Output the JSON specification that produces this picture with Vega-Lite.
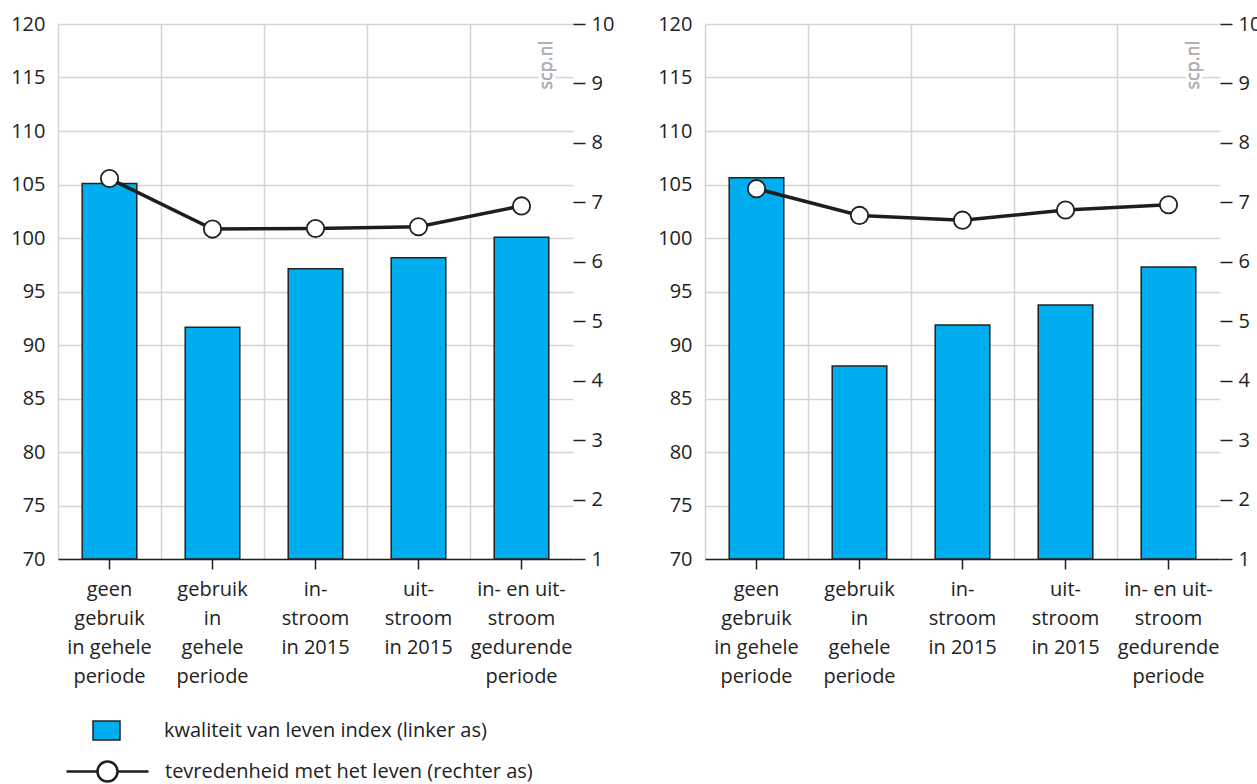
{
  "$schema": "https://vega.github.io/schema/vega-lite/v6.json",
  "padding": {"left": 10, "top": 14, "right": 0, "bottom": 0},
  "bounds": "flush",
  "spacing": 132,
  "config": {
    "font": "Open Sans",
    "view": {"stroke": null},
    "axis": {"labelFont": "Open Sans", "labelFontSize": 20, "labelColor": "#222222", "gridColor": "#d4d4d4", "gridWidth": 1.5},
    "legend": {"labelFont": "Open Sans", "labelFontSize": 20, "labelColor": "#222222", "padding": 0, "labelLimit": 0}
  },
  "datasets": {
    "d": [
      {"panel": "A", "cat": "geen|gebruik|in gehele|periode", "index": 105.1, "tevr": 7.40},
      {"panel": "A", "cat": "gebruik|in|gehele|periode", "index": 91.65, "tevr": 6.55},
      {"panel": "A", "cat": "in-|stroom|in 2015", "index": 97.13, "tevr": 6.56},
      {"panel": "A", "cat": "uit-|stroom|in 2015", "index": 98.16, "tevr": 6.59},
      {"panel": "A", "cat": "in- en uit-|stroom|gedurende|periode", "index": 100.06, "tevr": 6.94},
      {"panel": "B", "cat": "geen|gebruik|in gehele|periode", "index": 105.64, "tevr": 7.23},
      {"panel": "B", "cat": "gebruik|in|gehele|periode", "index": 88.04, "tevr": 6.78},
      {"panel": "B", "cat": "in-|stroom|in 2015", "index": 91.87, "tevr": 6.70},
      {"panel": "B", "cat": "uit-|stroom|in 2015", "index": 93.74, "tevr": 6.87},
      {"panel": "B", "cat": "in- en uit-|stroom|gedurende|periode", "index": 97.29, "tevr": 6.96}
    ]
  },
  "hconcat": [
    {
      "width": 515, "height": 535,
      "data": {"name": "d"},
      "transform": [{"filter": "datum.panel == 'A'"}],
      "layer": [
        {"layer": [
          {"mark": {"type": "bar", "width": {"band": 0.53}, "stroke": "#222222", "strokeWidth": 1.5},
           "encoding": {
             "x": {"field": "cat", "type": "nominal", "sort": null, "scale": {"paddingInner": 0, "paddingOuter": 0},
                   "axis": {"orient": "bottom", "grid": true, "bandPosition": 0, "labels": false, "ticks": false, "domain": false, "title": null}},
             "y": {"field": "index", "type": "quantitative", "scale": {"domain": [70, 120], "nice": false, "zero": false},
                   "axis": {"values": [70, 75, 80, 85, 90, 95, 100, 105, 110, 115, 120], "grid": true, "ticks": false, "domain": false, "labelPadding": 13, "title": null}},
             "y2": {"datum": 70},
             "fill": {"datum": "kwaliteit van leven index (linker as)", "scale": {"range": ["#00aeef"]},
                      "legend": {"orient": "none", "legendX": 34, "legendY": 692, "title": null, "symbolType": "M-1,-0.7H1V0.7H-1Z", "symbolSize": 729, "symbolStrokeColor": "#222222", "symbolFillColor": "#00aeef", "symbolStrokeWidth": 1.5, "labelOffset": 43,
                                 "encode": {"symbols": {"update": {"fill": {"value": "#00aeef"}, "stroke": {"value": "#222222"}, "strokeWidth": {"value": 1.5}, "opacity": {"value": 1}}}}}}
           }},
          {"mark": {"type": "text", "text": "scp.nl", "angle": 270, "align": "right", "baseline": "alphabetic", "dx": -17, "dy": -21, "fontSize": 18, "color": "white", "stroke": "white", "strokeWidth": 6, "font": "Open Sans"},
           "encoding": {"x": {"datum": "in- en uit-|stroom|gedurende|periode", "bandPosition": 1}, "y": {"datum": 120}}},
          {"mark": {"type": "text", "text": "scp.nl", "angle": 270, "align": "right", "baseline": "alphabetic", "dx": -17, "dy": -21, "fontSize": 18, "color": "#b3b3b3", "font": "Open Sans"},
           "encoding": {"x": {"datum": "in- en uit-|stroom|gedurende|periode", "bandPosition": 1}, "y": {"datum": 120}}}
        ]},
        {"layer": [
          {"mark": {"type": "line", "stroke": "#1e1e1e", "strokeWidth": 3.5},
           "encoding": {
             "x": {"field": "cat", "type": "nominal", "sort": null,
                   "axis": {"orient": "bottom", "grid": false, "labelExpr": "split(datum.value, '|')", "labelAngle": 0, "tickSize": 10, "tickColor": "#222222", "tickWidth": 1.5, "domainColor": "#222222", "domainWidth": 1.5, "labelPadding": 10, "labelLineHeight": 29, "labelBaseline": "top", "title": null, "zindex": 1}},
             "y": {"field": "tevr", "type": "quantitative", "scale": {"domain": [1, 10], "nice": false, "zero": false},
                   "axis": {"orient": "right", "values": [1, 2, 3, 4, 5, 6, 7, 8, 9, 10], "format": "d", "grid": false, "domain": false, "tickSize": 12, "tickColor": "#222222", "tickWidth": 1.5, "labelPadding": 6, "title": null}},
             "stroke": {"datum": "tevredenheid met het leven (rechter as)", "scale": {"range": ["#1e1e1e"]},
                        "legend": {"orient": "none", "legendX": 7, "legendY": 705, "title": null, "symbolType": "M-1,0H-0.244M0.244,0H1M0.244,0A0.244,0.244,0,1,1,-0.244,0A0.244,0.244,0,1,1,0.244,0Z", "symbolSize": 6724, "symbolStrokeWidth": 2.5, "symbolFillColor": "white", "labelOffset": 15,
                                   "encode": {"symbols": {"update": {"fill": {"value": "white"}}}}}}
           }},
          {"mark": {"type": "point", "filled": true, "fill": "white", "stroke": "#1e1e1e", "strokeWidth": 1.8, "size": 300, "opacity": 1},
           "encoding": {"x": {"field": "cat", "type": "nominal", "sort": null}, "y": {"field": "tevr", "type": "quantitative"}}}
        ]}
      ],
      "resolve": {"scale": {"y": "independent"}, "axis": {"x": "independent"}}
    },
    {
      "width": 515, "height": 535,
      "data": {"name": "d"},
      "transform": [{"filter": "datum.panel == 'B'"}],
      "layer": [
        {"layer": [
          {"mark": {"type": "bar", "width": {"band": 0.53}, "stroke": "#222222", "strokeWidth": 1.5},
           "encoding": {
             "x": {"field": "cat", "type": "nominal", "sort": null, "scale": {"paddingInner": 0, "paddingOuter": 0},
                   "axis": {"orient": "bottom", "grid": true, "bandPosition": 0, "labels": false, "ticks": false, "domain": false, "title": null}},
             "y": {"field": "index", "type": "quantitative", "scale": {"domain": [70, 120], "nice": false, "zero": false},
                   "axis": {"values": [70, 75, 80, 85, 90, 95, 100, 105, 110, 115, 120], "grid": true, "ticks": false, "domain": false, "labelPadding": 13, "title": null}},
             "y2": {"datum": 70},
             "fill": {"datum": "kwaliteit van leven index (linker as)", "scale": {"range": ["#00aeef"]}}
           }},
          {"mark": {"type": "text", "text": "scp.nl", "angle": 270, "align": "right", "baseline": "alphabetic", "dx": -17, "dy": -21, "fontSize": 18, "color": "white", "stroke": "white", "strokeWidth": 6, "font": "Open Sans"},
           "encoding": {"x": {"datum": "in- en uit-|stroom|gedurende|periode", "bandPosition": 1}, "y": {"datum": 120}}},
          {"mark": {"type": "text", "text": "scp.nl", "angle": 270, "align": "right", "baseline": "alphabetic", "dx": -17, "dy": -21, "fontSize": 18, "color": "#b3b3b3", "font": "Open Sans"},
           "encoding": {"x": {"datum": "in- en uit-|stroom|gedurende|periode", "bandPosition": 1}, "y": {"datum": 120}}}
        ]},
        {"layer": [
          {"mark": {"type": "line", "stroke": "#1e1e1e", "strokeWidth": 3.5},
           "encoding": {
             "x": {"field": "cat", "type": "nominal", "sort": null,
                   "axis": {"orient": "bottom", "grid": false, "labelExpr": "split(datum.value, '|')", "labelAngle": 0, "tickSize": 10, "tickColor": "#222222", "tickWidth": 1.5, "domainColor": "#222222", "domainWidth": 1.5, "labelPadding": 10, "labelLineHeight": 29, "labelBaseline": "top", "title": null, "zindex": 1}},
             "y": {"field": "tevr", "type": "quantitative", "scale": {"domain": [1, 10], "nice": false, "zero": false},
                   "axis": {"orient": "right", "values": [1, 2, 3, 4, 5, 6, 7, 8, 9, 10], "format": "d", "grid": false, "domain": false, "tickSize": 12, "tickColor": "#222222", "tickWidth": 1.5, "labelPadding": 6, "title": null}},
             "stroke": {"datum": "tevredenheid met het leven (rechter as)", "scale": {"range": ["#1e1e1e"]}}
           }},
          {"mark": {"type": "point", "filled": true, "fill": "white", "stroke": "#1e1e1e", "strokeWidth": 1.8, "size": 300, "opacity": 1},
           "encoding": {"x": {"field": "cat", "type": "nominal", "sort": null}, "y": {"field": "tevr", "type": "quantitative"}}}
        ]}
      ],
      "resolve": {"scale": {"y": "independent"}, "axis": {"x": "independent"}}
    }
  ]
}
